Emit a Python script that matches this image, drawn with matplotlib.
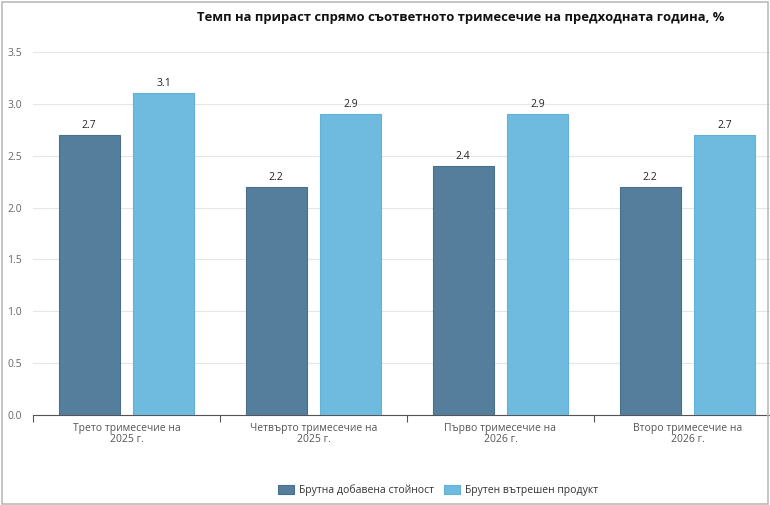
import matplotlib
matplotlib.use("Agg")
import matplotlib.pyplot as plt
from matplotlib.patches import Rectangle
import numpy as np

plt.rcParams['font.family'] = ['Open Sans', 'DejaVu Sans']

# data
categories = ["Трето тримесечие на\n2025 г.", "Четвърто тримесечие на\n2025 г.",
              "Първо тримесечие на\n2026 г.", "Второ тримесечие на\n2026 г."]
gva = [2.7, 2.2, 2.4, 2.2]
gdp = [3.1, 2.9, 2.9, 2.7]
series_names = ["Брутна добавена стойност", "Брутен вътрешен продукт"]
title = "Темп на прираст спрямо съответното тримесечие на предходната година, %"

dark = "#557e9c"
light = "#6fbadf"

fig = plt.figure(figsize=(7.7, 5.05), dpi=100)
# plot area runs past the right edge of the picture, like the original
ax = fig.add_axes([33 / 770, 90 / 505, 748 / 770, 363 / 505])

x = np.arange(len(categories))
w = 0.326
b1 = ax.bar(x - 0.2, gva, w, color=dark, edgecolor="#4a6f8c", linewidth=0.8, zorder=3)
b2 = ax.bar(x + 0.2, gdp, w, color=light, edgecolor="#63b0d8", linewidth=0.8, zorder=3)

for bars, vals in ((b1, gva), (b2, gdp)):
    for r, v in zip(bars, vals):
        ax.annotate(f"{v:.1f}", (r.get_x() + r.get_width() / 2, v), xytext=(0, 3),
                    textcoords="offset points", ha="center", va="bottom",
                    fontsize=7.5, color="#222222")

ax.set_yticks(np.arange(0, 3.51, 0.5))
ax.set_yticklabels([f"{t:.1f}" for t in np.arange(0, 3.51, 0.5)])
ax.grid(axis="y", color="#e6e6e6", linewidth=0.8, zorder=0)
ax.set_axisbelow(True)

ax.set_xticks(x)
ax.set_xticklabels(categories, linespacing=0.95)
ax.set_xticks(np.arange(-0.5, 4.0, 1.0), minor=True)
ax.set_xlim(-0.5, 3.5)
ax.set_ylim(0, 3.5)
ax.tick_params(axis="x", which="major", length=0, pad=6, labelsize=7.5, labelcolor="#555555")
ax.tick_params(axis="x", which="minor", length=5, color="#555555", width=0.8)
ax.tick_params(axis="y", length=0, pad=8, labelsize=7.5, labelcolor="#666666")

for s in ("top", "right", "left"):
    ax.spines[s].set_visible(False)
ax.spines["bottom"].set_color("#555555")
ax.spines["bottom"].set_linewidth(0.8)

fig.text(461 / 770, 1 - 17 / 505, title, ha="center", va="center",
         fontsize=9.4, fontweight="bold", color="#111111")

# legend
leg = fig.legend([b1, b2], series_names, loc="center", bbox_to_anchor=(438 / 770, 1 - 490 / 505),
                 ncol=2, frameon=False, fontsize=7.5, handlelength=1.5, handleheight=1.0,
                 columnspacing=1.0, handletextpad=0.5)
for t in leg.get_texts():
    t.set_color("#333333")

fig.patches.append(Rectangle((0.002, 0.002), 0.996, 0.995, transform=fig.transFigure,
                             fill=False, edgecolor="#bbbbbb", linewidth=1.2))

fig.savefig("out.png", dpi=100)
